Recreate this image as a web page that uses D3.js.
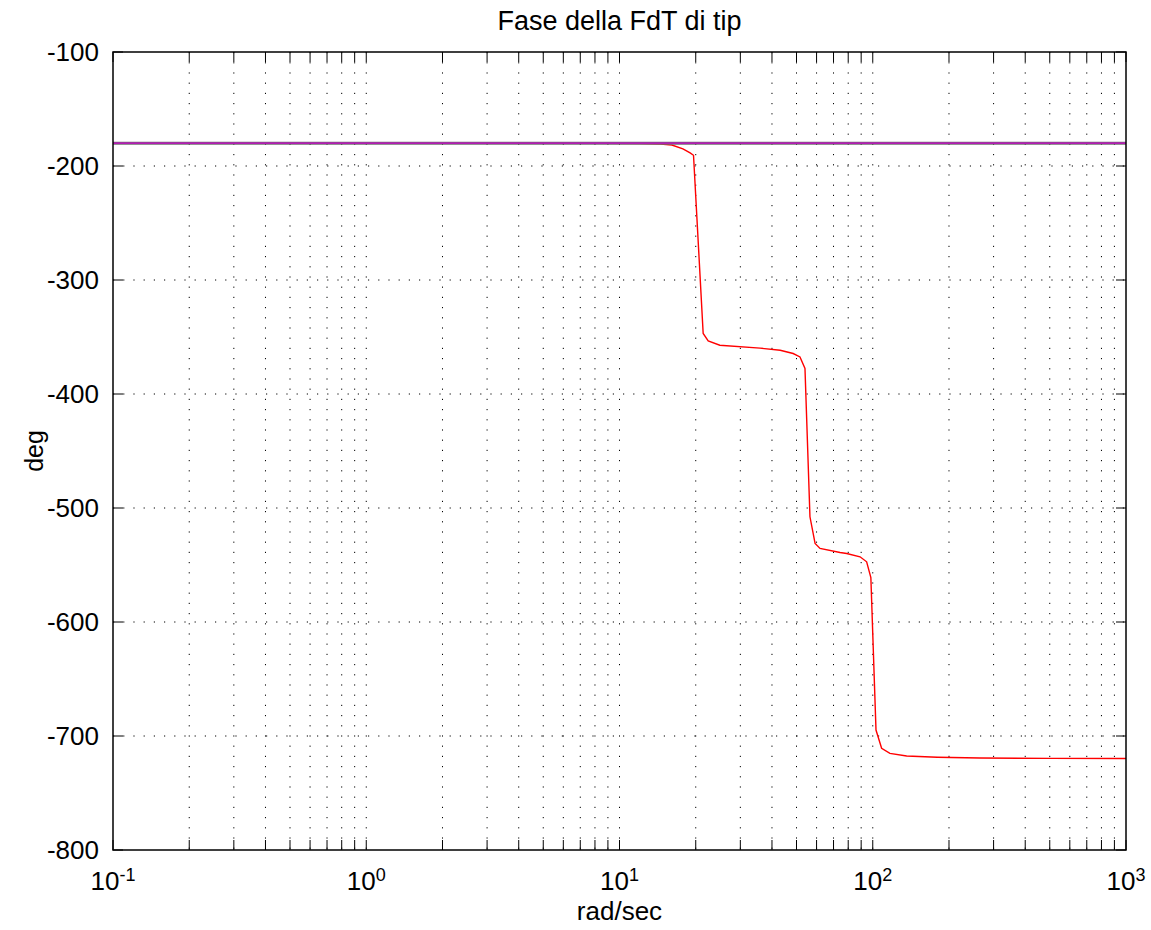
<!DOCTYPE html>
<html>
<head>
<meta charset="utf-8">
<script src="https://cdn.jsdelivr.net/npm/d3@7"></script>
<style>
  body { margin: 0; background: #fff; }
  text { font-family: "Liberation Sans", Arial, sans-serif; fill: #000; }
</style>
</head>
<body>
<script>
// phase of the tip transfer function
var freq  = [0.1, 0.3, 1, 3, 8, 12, 14.5, 16.1, 17.8, 19.0, 19.6, 21.4, 22.4, 24.9, 35.9, 43.1, 48.5, 51.6, 54.0, 56.5, 59.2, 61.9, 74.3, 78.9, 89.1, 94.6, 98.3, 103.0, 108.4, 116.9, 136.1, 180, 265, 500, 1000];
var phase = [-180, -180, -180, -180, -180.1, -180.3, -180.8, -181.6, -185, -188.5, -190.6, -346.9, -353.4, -357.2, -359.8, -361.6, -364.5, -367.5, -377.6, -507.7, -531.1, -535.5, -539.0, -539.9, -542.8, -547.2, -561, -694.8, -710.8, -715.2, -717.6, -718.6, -719.3, -719.6, -719.7];
var refFreq = [0.1, 1000];
var refPhase = [-180, -180];
var yTicks = [-100, -200, -300, -400, -500, -600, -700, -800];
var xDecades = [0.1, 1, 10, 100, 1000];

var W = 1151, H = 930;
var margin = {top: 52, right: 25, bottom: 80, left: 113};
var width = 1126 - margin.left,
    height = 850 - margin.top;

var x = d3.scaleLog().domain([0.1, 1000]).range([0, width]);
var y = d3.scaleLinear().domain([-800, -100]).range([height, 0]);

var svg = d3.select("body").append("svg")
    .attr("width", W)
    .attr("height", H)
  .append("g")
    .attr("transform", "translate(" + margin.left + "," + margin.top + ")");

// minor + major x positions for the grid
var xGrid = [];
xDecades.slice(0, -1).forEach(function(d) {
  for (var k = 1; k <= 9; k++) xGrid.push(d * k);
});
xGrid.push(1000);

// grid, dotted
svg.append("g").selectAll("line")
    .data(xGrid.filter(function(v) { return v > 0.1 && v < 1000; }))
    .enter().append("line")
    .attr("x1", function(d) { return x(d); })
    .attr("x2", function(d) { return x(d); })
    .attr("y1", 0).attr("y2", height)
    .attr("stroke", "#000")
    .attr("stroke-width", 1)
    .attr("stroke-dasharray", "1.2,9");

svg.append("g").selectAll("line")
    .data(yTicks.filter(function(v) { return v > -800 && v < -100; }))
    .enter().append("line")
    .attr("x1", 0).attr("x2", width)
    .attr("y1", function(d) { return y(d); })
    .attr("y2", function(d) { return y(d); })
    .attr("stroke", "#000")
    .attr("stroke-width", 1)
    .attr("stroke-dasharray", "1.2,9");

// ticks (inside, mirrored)
var tl = 10;
svg.append("g").selectAll("line")
    .data(xGrid)
    .enter().append("line")
    .attr("x1", function(d) { return x(d); })
    .attr("x2", function(d) { return x(d); })
    .attr("y1", height).attr("y2", height - tl)
    .attr("stroke", "#000");
svg.append("g").selectAll("line")
    .data(xGrid)
    .enter().append("line")
    .attr("x1", function(d) { return x(d); })
    .attr("x2", function(d) { return x(d); })
    .attr("y1", 0).attr("y2", tl)
    .attr("stroke", "#000");
svg.append("g").selectAll("line")
    .data(yTicks)
    .enter().append("line")
    .attr("x1", 0).attr("x2", tl)
    .attr("y1", function(d) { return y(d); })
    .attr("y2", function(d) { return y(d); })
    .attr("stroke", "#000");
svg.append("g").selectAll("line")
    .data(yTicks)
    .enter().append("line")
    .attr("x1", width).attr("x2", width - tl)
    .attr("y1", function(d) { return y(d); })
    .attr("y2", function(d) { return y(d); })
    .attr("stroke", "#000");

var line = d3.line()
    .x(function(d) { return x(d[0]); })
    .y(function(d) { return y(d[1]); });

// phase curve
svg.append("path")
    .datum(d3.zip(freq, phase))
    .attr("d", line)
    .attr("fill", "none")
    .attr("stroke", "#ff0000")
    .attr("stroke-width", 1.4);

// -180 reference line
svg.append("path")
    .datum(d3.zip(refFreq, refPhase))
    .attr("d", line)
    .attr("fill", "none")
    .attr("stroke", "#6f6f6f")
    .attr("stroke-width", 3);
svg.append("path")
    .datum(d3.zip(refFreq, refPhase))
    .attr("d", line)
    .attr("fill", "none")
    .attr("stroke", "#cc00cc")
    .attr("stroke-width", 1.2);

// frame
svg.append("rect")
    .attr("width", width)
    .attr("height", height)
    .attr("fill", "none")
    .attr("stroke", "#000")
    .attr("stroke-width", 1.5);

// y tick labels
svg.append("g").selectAll("text")
    .data(yTicks)
    .enter().append("text")
    .attr("x", -14)
    .attr("y", function(d) { return y(d); })
    .attr("dy", "0.36em")
    .attr("text-anchor", "end")
    .style("font-size", "26px")
    .text(function(d) { return d; });

// x tick labels 10^k
var xl = svg.append("g").selectAll("text")
    .data(xDecades)
    .enter().append("text")
    .attr("x", function(d) { return x(d); })
    .attr("y", height + 40)
    .attr("text-anchor", "middle")
    .style("font-size", "26px");
xl.append("tspan").text("10");
xl.append("tspan")
    .attr("dy", "-0.5em")
    .style("font-size", "18px")
    .text(function(d) { return Math.round(Math.log10(d)); });

// labels
svg.append("text")
    .attr("x", width / 2)
    .attr("y", height + 70)
    .attr("text-anchor", "middle")
    .style("font-size", "26px")
    .text("rad/sec");

svg.append("text")
    .attr("transform", "rotate(-90)")
    .attr("x", -height / 2)
    .attr("y", -70)
    .attr("text-anchor", "middle")
    .style("font-size", "25px")
    .text("deg");

svg.append("text")
    .attr("x", width / 2)
    .attr("y", -22)
    .attr("text-anchor", "middle")
    .style("font-size", "27px")
    .text("Fase della FdT di tip");
</script>
</body>
</html>
